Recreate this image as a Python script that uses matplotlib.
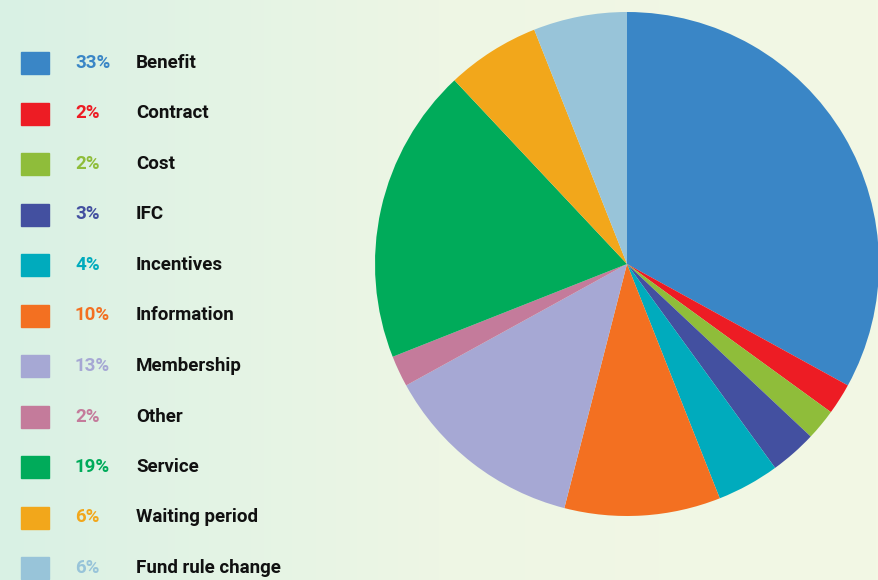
import matplotlib
matplotlib.use("Agg")
import matplotlib.pyplot as plt
import numpy as np
from matplotlib.colors import LinearSegmentedColormap

plt.rcParams['font.family'] = ['Roboto', 'DejaVu Sans']

categories = ['Benefit', 'Contract', 'Cost', 'IFC', 'Incentives', 'Information',
              'Membership', 'Other', 'Service', 'Waiting period', 'Fund rule change']
shares = [33, 2, 2, 3, 4, 10, 13, 2, 19, 6, 6]
colors = ['#3a86c6', '#ed1c24', '#8fbd3a', '#4350a0', '#00abbd', '#f37021',
          '#a6a8d4', '#c47b9b', '#00ab5a', '#f2a71b', '#98c4d9']

W, H = 879, 580
fig = plt.figure(figsize=(W / 100, H / 100), dpi=100)

# soft mint-to-cream background
bg = fig.add_axes([0, 0, 1, 1])
grad = LinearSegmentedColormap.from_list('bg', ['#d9f1e4', '#eef6e4', '#f3f8e4'])
bg.imshow(np.linspace(0, 1, 256)[None, :], cmap=grad, aspect='auto',
          extent=(0, 1, 0, 1))
bg.set_xlim(0, 1)
bg.set_ylim(0, 1)
bg.axis('off')

# pie: centre (627, 264) px from top-left, radius 252 px
cx, cy, r = 627, 264, 252
ax = fig.add_axes([(cx - r) / W, (H - cy - r) / H, 2 * r / W, 2 * r / H])
ax.pie(shares, colors=colors, startangle=90, counterclock=False, radius=1,
       wedgeprops=dict(linewidth=0))
ax.set_xlim(-1, 1)
ax.set_ylim(-1, 1)
ax.set_aspect('equal')
ax.axis('off')

# legend rows: swatch, coloured percentage, bold label
row0, step = 63, 50.5
for i, (name, val, col) in enumerate(zip(categories, shares, colors)):
    y = row0 + i * step
    fig.patches.append(plt.Rectangle((21 / W, 1 - (y + 11) / H), 28 / W, 22 / H,
                                     transform=fig.transFigure, color=col))
    fig.text(75 / W, 1 - y / H, f'{val}%', color=col, fontsize=13.5,
             fontweight='bold', va='center', ha='left')
    fig.text(136 / W, 1 - y / H, name, color='#111111', fontsize=13.5,
             fontweight='bold', va='center', ha='left')

fig.savefig('out.png', dpi=100)
